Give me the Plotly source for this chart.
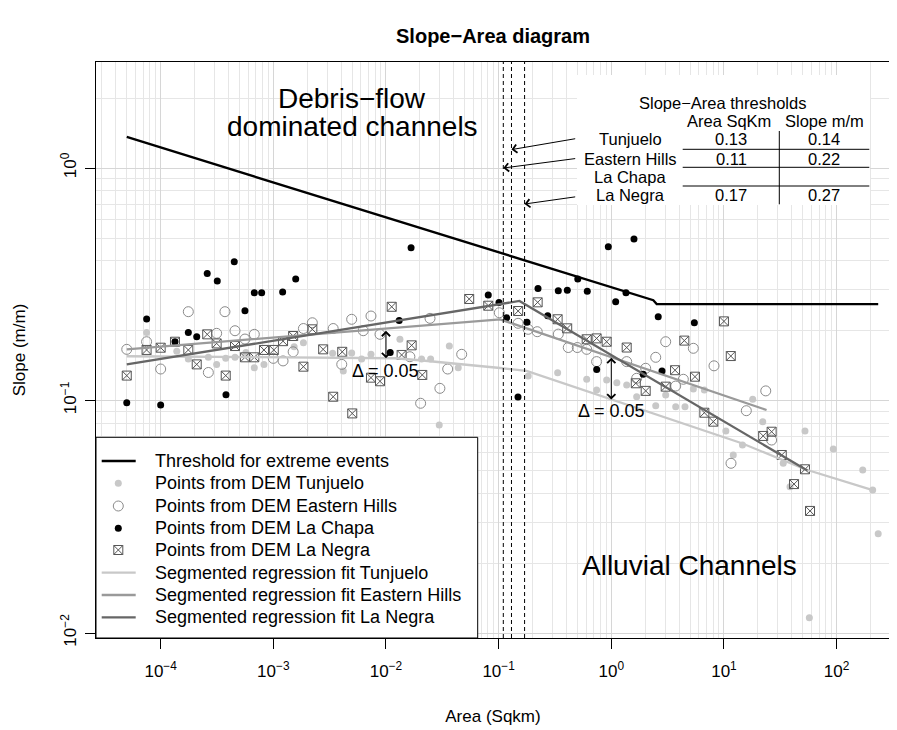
import numpy as np
import plotly.graph_objects as go

# ---------------- data ----------------
thr_area = [5e-5, 2.36, 2.53, 234]
thr_slope = [1.36, 0.27, 0.26, 0.26]

tj_fit_area = [5e-5, 0.012, 0.02, 0.047, 0.103, 0.177, 4.07, 14.4, 52.5, 209]
tj_fit_slope = [0.155, 0.152, 0.149, 0.1435, 0.138, 0.134, 0.0802, 0.0655, 0.0506, 0.0412]
eh_fit_area = [5e-5, 0.103, 23.9]
eh_fit_slope = [0.166, 0.2235, 0.091]
ln_fit_area = [5e-5, 0.153, 55]
ln_fit_slope = [0.143, 0.268, 0.05]

tj_area = [7.5e-5, 1.39e-4, 1.76e-4, 2.65e-4, 3.14e-4, 3.78e-4, 4.57e-4, 5.71e-4, 6.78e-4, 8.26e-4,
           1.53e-3, 1.85e-3, 3.36e-3, 4.18e-3, 4.96e-3, 6.08e-3, 7.36e-3, 0.0133, 0.0365, 0.0438,
           0.0249, 0.0207, 0.0297, 0.183, 0.334, 0.605, 0.741, 0.91, 1.12, 1.37,
           1.68, 2.48, 3.04, 3.73, 4.51, 5.35, 6.7, 18.0, 22.1, 10.4,
           52.4, 12.1, 14.6, 33.6, 38.6, 93.5, 170.6, 209, 234, 57.3]
tj_slope = [0.196, 0.163, 0.151, 0.1534, 0.143, 0.1518, 0.1534, 0.161, 0.1384, 0.143,
            0.1704, 0.1773, 0.1596, 0.134, 0.160, 0.151, 0.158, 0.1834, 0.1715, 0.1384,
            0.151, 0.151, 0.0785, 0.1274, 0.1318, 0.1234, 0.111, 0.1225, 0.1193, 0.1166,
            0.1038, 0.095, 0.1056, 0.094, 0.094, 0.112, 0.111, 0.1012, 0.0811, 0.0739,
            0.0739, 0.0583, 0.0644, 0.0537, 0.0426, 0.0619, 0.0502, 0.0412, 0.0267, 0.01164]

eh_area = [5e-5, 7.5e-5, 1e-4, 1.76e-4, 3.14e-4, 3.72e-4, 4.57e-4, 5.6e-4, 6.78e-4, 2.65e-4,
           1e-3, 1.22e-3, 1.5e-3, 1.85e-3, 2.22e-3, 3.4e-3, 4.05e-3, 4.96e-3, 6.28e-3, 7.36e-3,
           8.85e-3, 0.0246, 0.047, 0.0353, 0.0301, 0.0203, 0.0163, 0.1014, 0.149, 0.183,
           0.22, 0.3386, 0.415, 0.499, 0.605, 0.741, 1.37, 1.68, 2.02, 2.48,
           3.04, 3.73, 5.35, 8.16, 4.36, 23.5, 15.8, 11.55, 26.5]
eh_slope = [0.166, 0.179, 0.1366, 0.241, 0.1945, 0.241, 0.1996, 0.1838, 0.1926, 0.132,
            0.1518, 0.148, 0.162, 0.204, 0.216, 0.204, 0.143, 0.2235, 0.1996, 0.2309,
            0.1926, 0.2256, 0.158, 0.1366, 0.1128, 0.0973, 0.1543, 0.2385, 0.2148, 0.2024,
            0.1977, 0.193, 0.169, 0.169, 0.166, 0.147, 0.147, 0.1246, 0.1376, 0.1534,
            0.179, 0.1154, 0.1677, 0.141, 0.1234, 0.110, 0.0904, 0.0537, 0.0676]

lc_area = [4.5e-4, 2.59e-4, 3.18e-4, 1.58e-3, 6.78e-4, 7.88e-4, 1.21e-3, 5.6e-4, 7.51e-5, 1.76e-4,
           2.09e-4, 1.34e-4, 3.8e-4, 5e-5, 1e-4, 0.0109, 0.0167, 0.941, 1.59, 0.0809,
           0.1007, 0.1179, 0.1785, 0.1486, 0.2236, 0.3385, 0.407, 0.504, 0.612, 1.35,
           1.094, 0.2726, 2.61, 0.742, 1.92, 2.82, 0.0131, 5.46]
lc_slope = [0.395, 0.352, 0.327, 0.333, 0.291, 0.291, 0.293, 0.243, 0.224, 0.196,
            0.188, 0.179, 0.106, 0.0978, 0.0957, 0.161, 0.454, 0.459, 0.495, 0.284,
            0.264, 0.227, 0.217, 0.1035, 0.303, 0.2967, 0.298, 0.333, 0.295, 0.291,
            0.266, 0.2316, 0.229, 0.136, 0.1297, 0.134, 0.221, 0.216]

ln_area = [5e-5, 7.5e-5, 1e-4, 1.34e-4, 1.76e-4, 2.09e-4, 2.59e-4, 3.14e-4, 3.78e-4, 4.57e-4,
           5.6e-4, 6.78e-4, 8.26e-4, 1.01e-3, 1.22e-3, 1.5e-3, 1.85e-3, 2.22e-3, 2.77e-3, 3.4e-3,
           4.09e-3, 5.02e-3, 7.36e-3, 8.85e-3, 0.01124, 0.0169, 0.01377, 0.021, 0.0548, 0.0809,
           0.149, 0.222, 0.334, 0.406, 0.605, 0.741, 0.91, 1.37, 1.65, 2.02,
           3.04, 3.68, 4.45, 5.53, 10.0, 11.5, 6.7, 8.05, 22.3, 26.5,
           32.6, 52.4, 41.9, 58.1]
ln_slope = [0.128, 0.165, 0.1687, 0.179, 0.165, 0.143, 0.1926, 0.176, 0.128, 0.1715,
            0.1534, 0.1534, 0.165, 0.165, 0.180, 0.1894, 0.1398, 0.2024, 0.166, 0.1038,
            0.162, 0.088, 0.1254, 0.121, 0.253, 0.1727, 0.157, 0.1288, 0.2733, 0.2557,
            0.2426, 0.2644, 0.2236, 0.2044, 0.1834, 0.185, 0.179, 0.169, 0.1186, 0.110,
            0.1147, 0.135, 0.181, 0.1266, 0.219, 0.1553, 0.0886, 0.0811, 0.0704, 0.0734,
            0.0583, 0.0506, 0.0437, 0.0335]

# threshold table
tbl_names = ["Tunjuelo", "Eastern Hills", "La Chapa", "La Negra"]
tbl_area = [0.13, 0.11, None, 0.17]
tbl_slope = [0.14, 0.22, None, 0.27]
arrow_tip_slope = [1.20, 1.0, None, 0.70]
arrow_tail_slope = [1.34, 1.10, None, 0.753]
arrow_tail_area = 0.493

# delta annotations: area, upper slope, lower slope
delta_area = [0.01, 1.0]
delta_top = [0.2024, 0.155]
delta_bot = [0.152, 0.101]
delta_txt_slope = [0.134, 0.090]

xtick_vals = [1e-4, 1e-3, 1e-2, 1e-1, 1, 10, 100]
xtick_text = ["10<sup>−4</sup>", "10<sup>−3</sup>", "10<sup>−2</sup>", "10<sup>−1</sup>",
              "10<sup>0</sup>", "10<sup>1</sup>", "10<sup>2</sup>"]
ytick_vals = [1e-2, 1e-1, 1]
ytick_text = ["10<sup>−2</sup>", "10<sup>−1</sup>", "10<sup>0</sup>"]

# ---------------- styling ----------------
FONT = "Liberation Sans, Arial, Helvetica, sans-serif"
C_TJ = "#c8c8c8"
C_EH_PT = "#8a8a8a"
C_EH_LN = "#9a9a9a"
C_LN_PT = "#555555"
C_LN_LN = "#666666"
XR = [-4.574, 2.474]
YR = [-2.0215, 0.456]
OFF = 8  # page body margin offset
W, H = 897 - OFF, 730 - OFF
PL, PR, PT, PB = 96 - OFF, 890 - OFF, 62 - OFF, 638 - OFF
LW = 2.3
LN_MARK = dict(symbol="square-x-open", size=9, color=C_LN_PT, line=dict(width=1))

fig = go.Figure()

# points
fig.add_trace(go.Scatter(x=tj_area, y=tj_slope, mode="markers",
                         marker=dict(symbol="circle", size=7, color=C_TJ)))
fig.add_trace(go.Scatter(x=eh_area, y=eh_slope, mode="markers",
                         marker=dict(symbol="circle-open", size=10, color=C_EH_PT, line=dict(width=1))))
fig.add_trace(go.Scatter(x=ln_area, y=ln_slope, mode="markers", marker=LN_MARK))
fig.add_trace(go.Scatter(x=lc_area, y=lc_slope, mode="markers",
                         marker=dict(symbol="circle", size=7, color="black")))
# fits
fig.add_trace(go.Scatter(x=tj_fit_area, y=tj_fit_slope, mode="lines", line=dict(color=C_TJ, width=LW)))
fig.add_trace(go.Scatter(x=eh_fit_area, y=eh_fit_slope, mode="lines", line=dict(color=C_EH_LN, width=LW)))
fig.add_trace(go.Scatter(x=ln_fit_area, y=ln_fit_slope, mode="lines", line=dict(color=C_LN_LN, width=LW)))
# threshold line
fig.add_trace(go.Scatter(x=thr_area, y=thr_slope, mode="lines", line=dict(color="black", width=LW)))
# dashed threshold areas
ylo, yhi = 10 ** YR[0], 10 ** YR[1]
for a in tbl_area:
    if a is None:
        continue
    fig.add_trace(go.Scatter(x=[a, a], y=[ylo, yhi], mode="lines",
                             line=dict(color="black", width=1, dash="4px,3px")))

# ---------------- overlay (plot-fraction) axis for legend and table ----------------
def px2x(px):
    return (px - 96) / 794.0

def py2y(py):
    return (638 - py) / 576.0

# legend box
lx0, lx1, ly0, ly1 = 0, px2x(477.7), 0, py2y(437.3)
fig.add_trace(go.Scatter(x=[lx0, lx1, lx1, lx0, lx0], y=[ly0, ly0, ly1, ly1, ly0],
                         mode="lines", fill="toself", fillcolor="white",
                         line=dict(color="black", width=1), xaxis="x2", yaxis="y2"))
leg_labels = ["Threshold for extreme events", "Points from DEM Tunjuelo",
              "Points from DEM Eastern Hills", "Points from DEM La Chapa",
              "Points from DEM La Negra", "Segmented regression fit Tunjuelo",
              "Segmented regression fit Eastern Hills", "Segmented regression fit La Negra"]
leg_py = [461, 483.3, 506, 528.3, 550, 572.7, 595, 617.3]
leg_kind = ["line", "m0", "m1", "m3", "m2", "line", "line", "line"]
leg_col = ["black", None, None, None, None, C_TJ, C_EH_LN, C_LN_LN]
mk = [dict(symbol="circle", size=7, color=C_TJ),
      dict(symbol="circle-open", size=10, color=C_EH_PT, line=dict(width=1)),
      LN_MARK,
      dict(symbol="circle", size=7, color="black")]
for lab, py, kind, col in zip(leg_labels, leg_py, leg_kind, leg_col):
    yy = py2y(py)
    if kind == "line":
        fig.add_trace(go.Scatter(x=[px2x(101.7), px2x(135.7)], y=[yy, yy], mode="lines",
                                 line=dict(color=col, width=LW), xaxis="x2", yaxis="y2"))
    else:
        fig.add_trace(go.Scatter(x=[px2x(118.3)], y=[yy], mode="markers",
                                 marker=mk[int(kind[1])], xaxis="x2", yaxis="y2"))
    fig.add_annotation(x=px2x(153.3), y=yy, xref="x2", yref="y2", text=lab, showarrow=False,
                       xanchor="left", yanchor="middle", font=dict(size=18, color="black"))

# table box
tx0, tx1, ty0, ty1 = px2x(577), px2x(870), py2y(205), py2y(75)
fig.add_trace(go.Scatter(x=[tx0, tx1, tx1, tx0, tx0], y=[ty0, ty0, ty1, ty1, ty0],
                         mode="lines", fill="toself", fillcolor="white",
                         line=dict(color="white", width=0), xaxis="x2", yaxis="y2"))
for py in [149.3, 167.3, 186]:
    fig.add_trace(go.Scatter(x=[px2x(682.7), px2x(869.3)], y=[py2y(py)] * 2, mode="lines",
                             line=dict(color="black", width=1), xaxis="x2", yaxis="y2"))
fig.add_trace(go.Scatter(x=[px2x(779.3)] * 2, y=[py2y(131), py2y(204.3)], mode="lines",
                         line=dict(color="black", width=1), xaxis="x2", yaxis="y2"))

TFS = 16.5
fig.add_annotation(x=px2x(722), y=py2y(102.7), xref="x2", yref="y2", text="Slope−Area thresholds",
                   showarrow=False, font=dict(size=TFS))
fig.add_annotation(x=px2x(729), y=py2y(121), xref="x2", yref="y2", text="Area SqKm",
                   showarrow=False, font=dict(size=TFS))
fig.add_annotation(x=px2x(824), y=py2y(121), xref="x2", yref="y2", text="Slope m/m",
                   showarrow=False, font=dict(size=TFS))
row_py = [139, 158.5, 176.5, 195]
for name, a, s, py, tip, tail in zip(tbl_names, tbl_area, tbl_slope, row_py,
                                     arrow_tip_slope, arrow_tail_slope):
    fig.add_annotation(x=px2x(630), y=py2y(py), xref="x2", yref="y2", text=name,
                       showarrow=False, font=dict(size=TFS))
    if a is not None:
        fig.add_annotation(x=px2x(731), y=py2y(py), xref="x2", yref="y2", text=f"{a:.2f}",
                           showarrow=False, font=dict(size=TFS))
        fig.add_annotation(x=px2x(824), y=py2y(py), xref="x2", yref="y2", text=f"{s:.2f}",
                           showarrow=False, font=dict(size=TFS))
        fig.add_annotation(x=np.log10(a), y=np.log10(tip), xref="x", yref="y",
                           ax=np.log10(arrow_tail_area), ay=np.log10(tail), axref="x", ayref="y",
                           text="", showarrow=True, arrowhead=4, arrowsize=1.6, arrowwidth=1,
                           arrowcolor="black")

# delta arrows
for a, top, bot, ts in zip(delta_area, delta_top, delta_bot, delta_txt_slope):
    fig.add_annotation(x=np.log10(a), y=np.log10(bot), xref="x", yref="y",
                       ax=np.log10(a), ay=np.log10(top), axref="x", ayref="y",
                       text="", showarrow=True, arrowhead=4, startarrowhead=4, arrowside="end+start",
                       arrowsize=1.6, startarrowsize=1.6, arrowwidth=1, arrowcolor="black")
    fig.add_annotation(x=np.log10(a), y=np.log10(ts), xref="x", yref="y", text="Δ = 0.05",
                       showarrow=False, font=dict(size=18))

# region labels
fig.add_annotation(x=px2x(352), y=py2y(98.3), xref="x2", yref="y2", text="Debris−flow",
                   showarrow=False, font=dict(size=28))
fig.add_annotation(x=px2x(352), y=py2y(126.7), xref="x2", yref="y2", text="dominated channels",
                   showarrow=False, font=dict(size=28))
fig.add_annotation(x=px2x(689.7), y=py2y(565), xref="x2", yref="y2", text="Alluvial Channels",
                   showarrow=False, font=dict(size=28))

axis_common = dict(showline=True, mirror=True, linecolor="black", linewidth=1,
                   ticks="outside", ticklen=10, tickcolor="black", zeroline=False,
                   showgrid=True, gridcolor="#d6d6d6", gridwidth=1,
                   tickfont=dict(size=17, color="black"))

fig.update_layout(
    width=W, height=H,
    margin=dict(l=PL, r=W - PR, t=PT, b=H - PB),
    paper_bgcolor="white", plot_bgcolor="white",
    font=dict(family=FONT, color="black"),
    showlegend=False,
    title=dict(text="<b>Slope−Area diagram</b>", x=(493 - OFF) / W, xanchor="center",
               y=1 - (36 - OFF) / H, yanchor="middle", font=dict(size=20)),
    xaxis=dict(type="log", range=XR, tickvals=xtick_vals, ticktext=xtick_text,
               ticklabelstandoff=8,
               title=dict(text="Area (Sqkm)", font=dict(size=17), standoff=29),
               minor=dict(showgrid=True, gridcolor="#e6e6e6", dtick="D1", ticks=""),
               **axis_common),
    yaxis=dict(type="log", range=YR, tickvals=ytick_vals, ticktext=ytick_text, tickangle=-90,
               ticklabelstandoff=2,
               title=dict(text="Slope (m/m)", font=dict(size=17), standoff=28),
               minor=dict(showgrid=True, gridcolor="#e6e6e6", dtick="D1", ticks=""),
               **axis_common),
    xaxis2=dict(overlaying="x", range=[0, 1], visible=False, fixedrange=True),
    yaxis2=dict(overlaying="y", range=[0, 1], visible=False, fixedrange=True),
)

fig.write_html("out.html")
